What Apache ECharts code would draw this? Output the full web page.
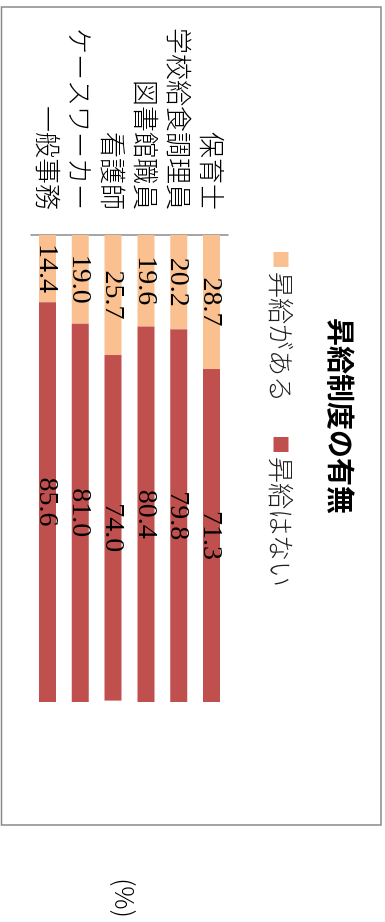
<!DOCTYPE html>
<html>
<head>
<meta charset="utf-8">
<script src="https://cdn.jsdelivr.net/npm/echarts@6/dist/echarts.min.js"></script>
<style>
html, body { margin: 0; padding: 0; background: #fff; overflow: hidden; }
/* the chart is laid out lying on its side, then turned a quarter clockwise */
#chart {
  position: absolute; left: 0; top: 0;
  width: 922px; height: 385px;
  transform-origin: 0 0;
  transform: translate(385px, 0) rotate(90deg);
}
</style>
</head>
<body>
<div id="chart"></div>
<script>
const titleText = '昇給制度の有無'
const unitText = '(%)'
const categories = ['保育士', '学校給食調理員', '図書館職員', '看護師', 'ケースワーカー', '一般事務']
const seriesNames = ['昇給がある', '昇給はない']
const raiseYes = [28.7, 20.2, 19.6, 25.7, 19.0, 14.4]
const raiseNo = [71.3, 79.8, 80.4, 74.0, 81.0, 85.6]

const jp = 'Noto Sans CJK JP'
const chart = echarts.init(document.getElementById('chart'), null, { renderer: 'canvas' })

const barLabel = {
  show: true,
  position: 'inside',
  color: '#000',
  fontFamily: 'Liberation Serif',
  fontSize: 28,
  formatter: p => p.value.toFixed(1)
}

const option = {
  animation: false,
  backgroundColor: '#fff',
  title: {
    text: titleText,
    left: 318,
    top: 30,
    padding: 0,
    textStyle: { fontFamily: jp, fontSize: 28, fontWeight: 'bold', color: '#000' }
  },
  legend: {
    data: seriesNames,
    left: 252,
    top: 91,
    padding: 0,
    itemWidth: 15,
    itemHeight: 15,
    itemGap: 35,
    icon: 'rect',
    textStyle: { fontFamily: jp, fontSize: 26, fontWeight: 300, color: '#222' }
  },
  grid: {
    left: 235,
    right: 220,
    top: 157,
    bottom: 31,
    containLabel: false
  },
  xAxis: {
    type: 'value',
    min: 0,
    max: 100,
    show: false
  },
  yAxis: {
    type: 'category',
    data: categories,
    inverse: true,
    axisTick: { show: false },
    axisLine: { show: true, lineStyle: { color: '#888', width: 1.5 } },
    axisLabel: {
      interval: 0,
      hideOverlap: false,
      fontFamily: jp,
      fontSize: 26,
      fontWeight: 300,
      color: '#000',
      margin: 25
    }
  },
  series: [
    {
      name: seriesNames[0],
      type: 'bar',
      stack: 'total',
      barWidth: 17,
      itemStyle: { color: '#FAC090' },
      label: barLabel,
      data: raiseYes
    },
    {
      name: seriesNames[1],
      type: 'bar',
      stack: 'total',
      barWidth: 17,
      itemStyle: { color: '#C0504D' },
      label: barLabel,
      data: raiseNo
    }
  ],
  graphic: [
    {
      type: 'rect',
      shape: { x: 7, y: 4, width: 818, height: 379.5 },
      style: { fill: 'none', stroke: '#888', lineWidth: 1.5 },
      z: -1
    },
    {
      type: 'text',
      x: 898,
      y: 260,
      style: {
        text: unitText,
        fontFamily: jp,
        fontSize: 26,
        fontWeight: 300,
        fill: '#000',
        textAlign: 'center',
        textVerticalAlign: 'middle'
      }
    }
  ]
}

chart.setOption(option)
</script>
</body>
</html>
